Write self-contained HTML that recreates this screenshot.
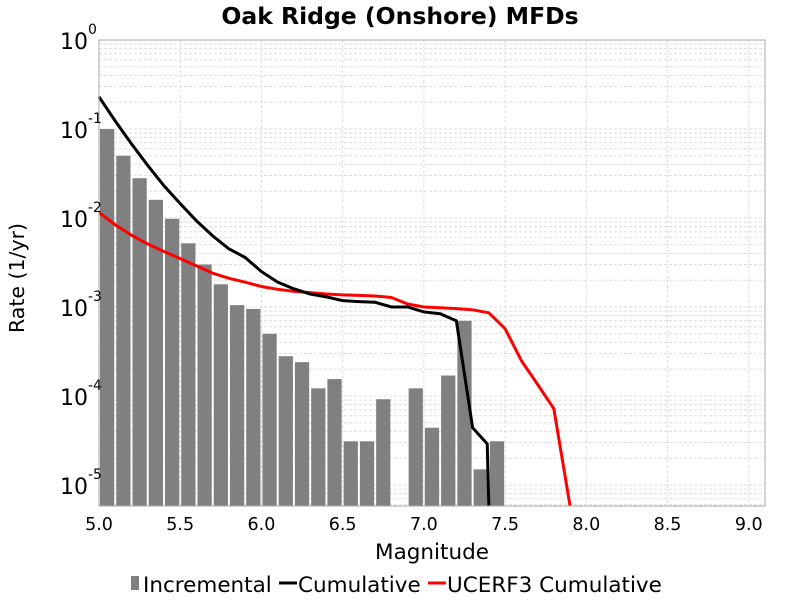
<!DOCTYPE html>
<html><head><meta charset="utf-8"><style>
body{margin:0;background:#fff;font-family:"DejaVu Sans","Liberation Sans",sans-serif}
</style></head><body>
<svg width="800" height="600" xmlns="http://www.w3.org/2000/svg" id="chart">
<text x="400" y="24" text-anchor="middle" font-size="23.5" font-weight="bold">Oak Ridge (Onshore) MFDs</text>
<text x="432" y="559" text-anchor="middle" font-size="21.5">Magnitude</text>
<text transform="translate(24,278) rotate(-90)" text-anchor="middle" font-size="20.5">Rate (1/yr)</text>
<g id="grid"></g><g id="bars"></g><g id="lines"></g><g id="axes"></g>
<g font-size="21.5">
<rect x="131" y="576" width="8" height="14" fill="#808080"/>
<text x="143" y="592">Incremental</text>
<line x1="279" y1="583" x2="297" y2="583" stroke="#000" stroke-width="3"/>
<text x="298" y="592">Cumulative</text>
<line x1="428" y1="583" x2="446" y2="583" stroke="#f00" stroke-width="3"/>
<text x="447" y="592">UCERF3 Cumulative</text>
</g>
</svg>
<script>
const binCenters=[5.05,5.15,5.25,5.35,5.45,5.55,5.65,5.75,5.85,5.95,6.05,6.15,6.25,6.35,6.45,6.55,6.65,6.75,6.95,7.05,7.15,7.25,7.35,7.45];
const incValues=[0.1,0.05,0.028,0.016,0.0098,0.0052,0.003,0.0018,0.00105,0.00095,0.0005,0.00028,0.00024,0.000122,0.000155,3.1e-5,3.1e-5,9.2e-5,1.22e-4,4.4e-5,1.7e-4,7e-4,1.5e-5,3.1e-5];
const cumMags=[5.0,5.1,5.2,5.3,5.4,5.5,5.6,5.7,5.8,5.9,6.0,6.1,6.2,6.3,6.4,6.5,6.6,6.7,6.8,6.9,7.0,7.1,7.2,7.3,7.39,7.4];
const cumValues=[0.23,0.123,0.068,0.039,0.023,0.0145,0.0093,0.0063,0.0045,0.0036,0.0025,0.0019,0.0016,0.0014,0.0013,0.00118,0.00115,0.00113,0.001,0.001,0.00088,0.00084,0.0007,4.4e-5,2.9e-5,1e-6];
const ucMags=[5.0,5.1,5.2,5.3,5.4,5.5,5.6,5.7,5.8,5.9,6.0,6.1,6.2,6.3,6.4,6.5,6.6,6.7,6.8,6.9,7.0,7.1,7.2,7.3,7.4,7.5,7.6,7.7,7.8,7.9];
const ucValues=[0.0115,0.0084,0.0064,0.0051,0.0042,0.0035,0.0029,0.0024,0.0021,0.0019,0.0017,0.00158,0.0015,0.00145,0.0014,0.00137,0.00135,0.00133,0.00128,0.00108,0.001,0.00098,0.00096,0.00093,0.00086,0.00057,0.00025,0.000135,7.2e-5,1e-6];
const xTicks=["5.0","5.5","6.0","6.5","7.0","7.5","8.0","8.5","9.0"];
const yTickExps=[0,-1,-2,-3,-4,-5];
const L=99,R=765,T=40,B=506,D=89,XMIN=5.0,XMAX=9.1;
const X=m=>L+(m-XMIN)/(XMAX-XMIN)*(R-L);
const Y=v=>Math.min(B,T-Math.log10(v)*D);
const NS="http://www.w3.org/2000/svg";
function mk(p,t,a){const e=document.createElementNS(NS,t);for(const k in a)e.setAttribute(k,a[k]);document.getElementById(p).appendChild(e);return e;}
for(let e=0;e>=-6;e--)for(let k=1;k<10;k++){const y=T-(e+Math.log10(k))*D;if(y<T-0.5||y>B)continue;
const g=mk('grid','line',{x1:L,x2:R,y1:y,y2:y,stroke:'#ddd','stroke-dasharray':'3,2'});
}
xTicks.forEach(t=>{const x=X(+t);const g=mk('grid','line',{x1:x,x2:x,y1:T,y2:B,stroke:'#ddd','stroke-dasharray':'3,2'});
});
const bw=X(5.1)-X(5.0);
binCenters.forEach((m,i)=>{const y=Y(incValues[i]);
const r=mk('bars','rect',{x:X(m)-bw/2+1,y:y,width:bw-2,height:B-y,fill:'#808080'});
});
function line(ms,vs,c,n){const p=mk('lines','polyline',{points:ms.map((m,i)=>X(m)+','+Y(vs[i])).join(' '),fill:'none',stroke:c,'stroke-width':3});
}
line(ucMags,ucValues,'#f00','ucerf3-cumulative-line');
line(cumMags,cumValues,'#000','cumulative-line');
const f=mk('axes','rect',{x:L,y:T,width:R-L,height:B-T,fill:'none',stroke:'#aaa'});

xTicks.forEach(t=>{const tx=mk('axes','text',{x:X(+t),y:530,'text-anchor':'middle','font-size':17.5});tx.textContent=t;
});
yTickExps.forEach(e=>{const y=T-e*D;
const tx=mk('axes','text',{x:88,y:y+9,'text-anchor':'end','font-size':22});tx.textContent='10';

const s=mk('axes','text',{x:88,y:y-6,'font-size':14});s.textContent=String(e);
});
</script>
</body></html>
